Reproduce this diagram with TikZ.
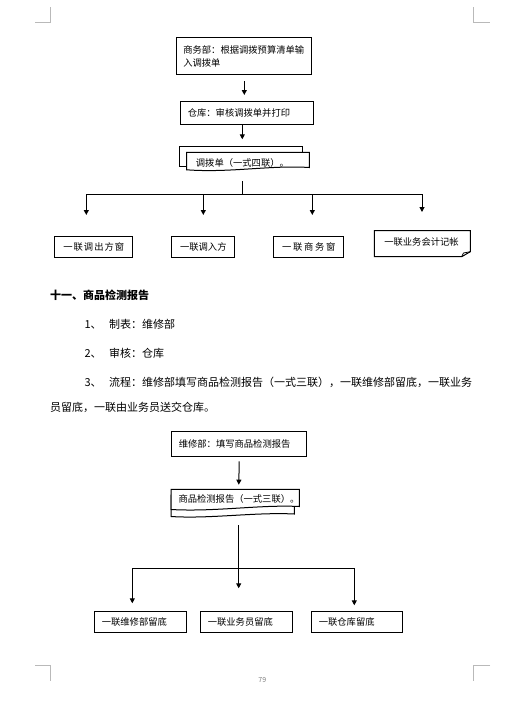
\documentclass[tikz,border=0pt]{standalone}
\usepackage{fontspec}
\setmainfont{Noto Sans CJK SC}
\usetikzlibrary{arrows.meta}

\begin{document}
\begin{tikzpicture}[x=1pt,y=-1pt,
  box/.style={draw,line width=1pt,inner xsep=7pt,inner ysep=0pt,anchor=north west,
    align=left,font=\fontsize{9.3}{13}\selectfont},
  cbox/.style={draw,line width=1pt,inner sep=0pt,anchor=north west,
    font=\fontsize{9.3}{13}\selectfont},
  sheet/.style={fill=white,draw,line width=1pt},
  link/.style={line width=1pt,-{Triangle[width=5pt,length=5pt]}},
  crop/.style={gray!55,line width=0.8pt},
  body/.style={anchor=west,inner sep=0pt,font=\fontsize{11}{13}\selectfont}]
\useasboundingbox (0,0) rectangle (516,716);
\fill[white] (0,0) rectangle (516,716);

% crop marks
\draw[crop] (50,7) -- (50,22) -- (35,22);
\draw[crop] (473,7) -- (473,22) -- (490,22);
\draw[crop] (35,665.3) -- (50,665.3) -- (50,680.7);
\draw[crop] (490,665.3) -- (473,665.3) -- (473,680.7);

% first chart
\node[box,inner xsep=6.5pt,text width=122pt,minimum height=36.7pt] (sw) at (176.3,37.3)
  {商务部：根据调拨预算清单输\\入调拨单};
\node[box,text width=119pt,minimum height=23pt] (ck) at (180.3,101.3) {仓库：审核调拨单并打印};

\filldraw[sheet] (179.3,146.7) rectangle (302.7,166);
\filldraw[sheet] (186.7,152.3) -- (309.3,152.3) -- (309.3,167.5)
  .. controls (270,165) and (230,173) .. (186.7,169.8) -- cycle;
\node[anchor=west,inner sep=0pt,font=\fontsize{9.3}{13}\selectfont] (dbd) at (195.7,162.8)
  {调拨单（一式四联）。};
\coordinate (d1) at (242.3,146.7);
\coordinate (d1s) at (242.3,169);
\coordinate (bl) at (86.3,194.3);
\coordinate (br) at (422,194.3);

\draw[link,shorten <=6pt,shorten >=6.3pt] (sw.south) -- (sw.south |- ck.north);
\draw[link,shorten >=7.4pt] (d1 |- ck.south) -- (d1);
\draw[line width=1pt,shorten <=12pt] (d1s) -- (d1s |- bl);
\draw[line width=1pt] (bl) -- (br);
\draw[link] (bl) -- ++(0,20.7);
\draw[link] (203.3,194.3) -- ++(0,20.7);
\draw[link] (312.3,194.3) -- ++(0,20.7);
\draw[link] (br) -- ++(0,17.7);

\node[cbox,minimum width=78pt,minimum height=21pt] (ca) at (54.3,236.3)
  {\addfontfeature{LetterSpace=11}一联调出方窗};
\node[cbox,minimum width=63pt,minimum height=21pt] (cb) at (171.3,236.3) {一联调入方};
\node[cbox,minimum width=70pt,minimum height=21pt] (cc) at (273.3,236.3)
  {\addfontfeature{LetterSpace=18}一联商务窗};
\draw[line width=1pt] (374.3,230.7) -- (470.3,230.7) -- (470.3,251.7) -- (461.7,256.7)
  -- (374.3,256.7) -- cycle;
\draw[line width=0.8pt] (461.7,256.7) -- (463.5,253) -- (470.3,251.7);
\node[inner sep=0pt,font=\fontsize{9.3}{13}\selectfont] (kj) at (421.5,242) {一联业务会计记帐};

% text
\node[body,font=\bfseries\fontsize{11}{13}\selectfont] (h11) at (50,295.7) {十一、商品检测报告};
\node[body] (l1) at (84.3,324) {\makebox[24.7pt][l]{1、}制表：维修部};
\node[body] (l2) at (84.3,353.3) {\makebox[24.7pt][l]{2、}审核：仓库};
\node[body] (l3) at (84.3,382.3)
  {\makebox[24.7pt][l]{3、}流程：维修部填写商品检测报告（一式三联），一联维修部留底，一联业务};
\node[body] (l4) at (50,407.3) {员留底，一联由业务员送交仓库。};

% second chart
\node[box,text width=121pt,minimum height=25pt] (wx) at (171.3,431.3) {维修部：填写商品检测报告};

\filldraw[sheet] (171,495) -- (294.3,495) -- (294.3,514)
  .. controls (255,512) and (210,519) .. (171,516.5) -- cycle;
\filldraw[sheet] (171,489.3) -- (299.3,489.3) -- (299.3,506.5)
  .. controls (260,504.5) and (215,512) .. (171,509.5) -- cycle;
\node[anchor=west,inner sep=0pt,font=\fontsize{9.3}{13}\selectfont] (jc) at (178.3,499.3)
  {商品检测报告（一式三联）。};
\coordinate (d2) at (238.7,489.3);
\coordinate (d2s) at (238.7,516);
\coordinate (bl2) at (132.3,568.3);
\coordinate (br2) at (354.3,568.3);

\draw[link,shorten <=4pt,shorten >=4.6pt] (wx.south) -- (d2);
\draw[link,shorten <=9pt] (d2s) -- ++(0,72.3);
\draw[line width=1pt] (bl2) -- (br2);
\draw[link] (bl2) -- ++(0,35);
\draw[link] (br2) -- ++(0,37);

\node[box,text width=78pt,minimum height=21pt] (ce) at (94.3,611.3) {一联维修部留底};
\node[box,text width=77.4pt,minimum height=21pt] (cf) at (200.3,611.3) {一联业务员留底};
\node[box,text width=77pt,minimum height=21pt] (cg) at (311.3,611.3) {一联仓库留底};

\node[inner sep=0pt,text=gray,font=\fontsize{7}{8}\selectfont] (pg) at (262.3,679.7) {79};
\end{tikzpicture}
\end{document}
